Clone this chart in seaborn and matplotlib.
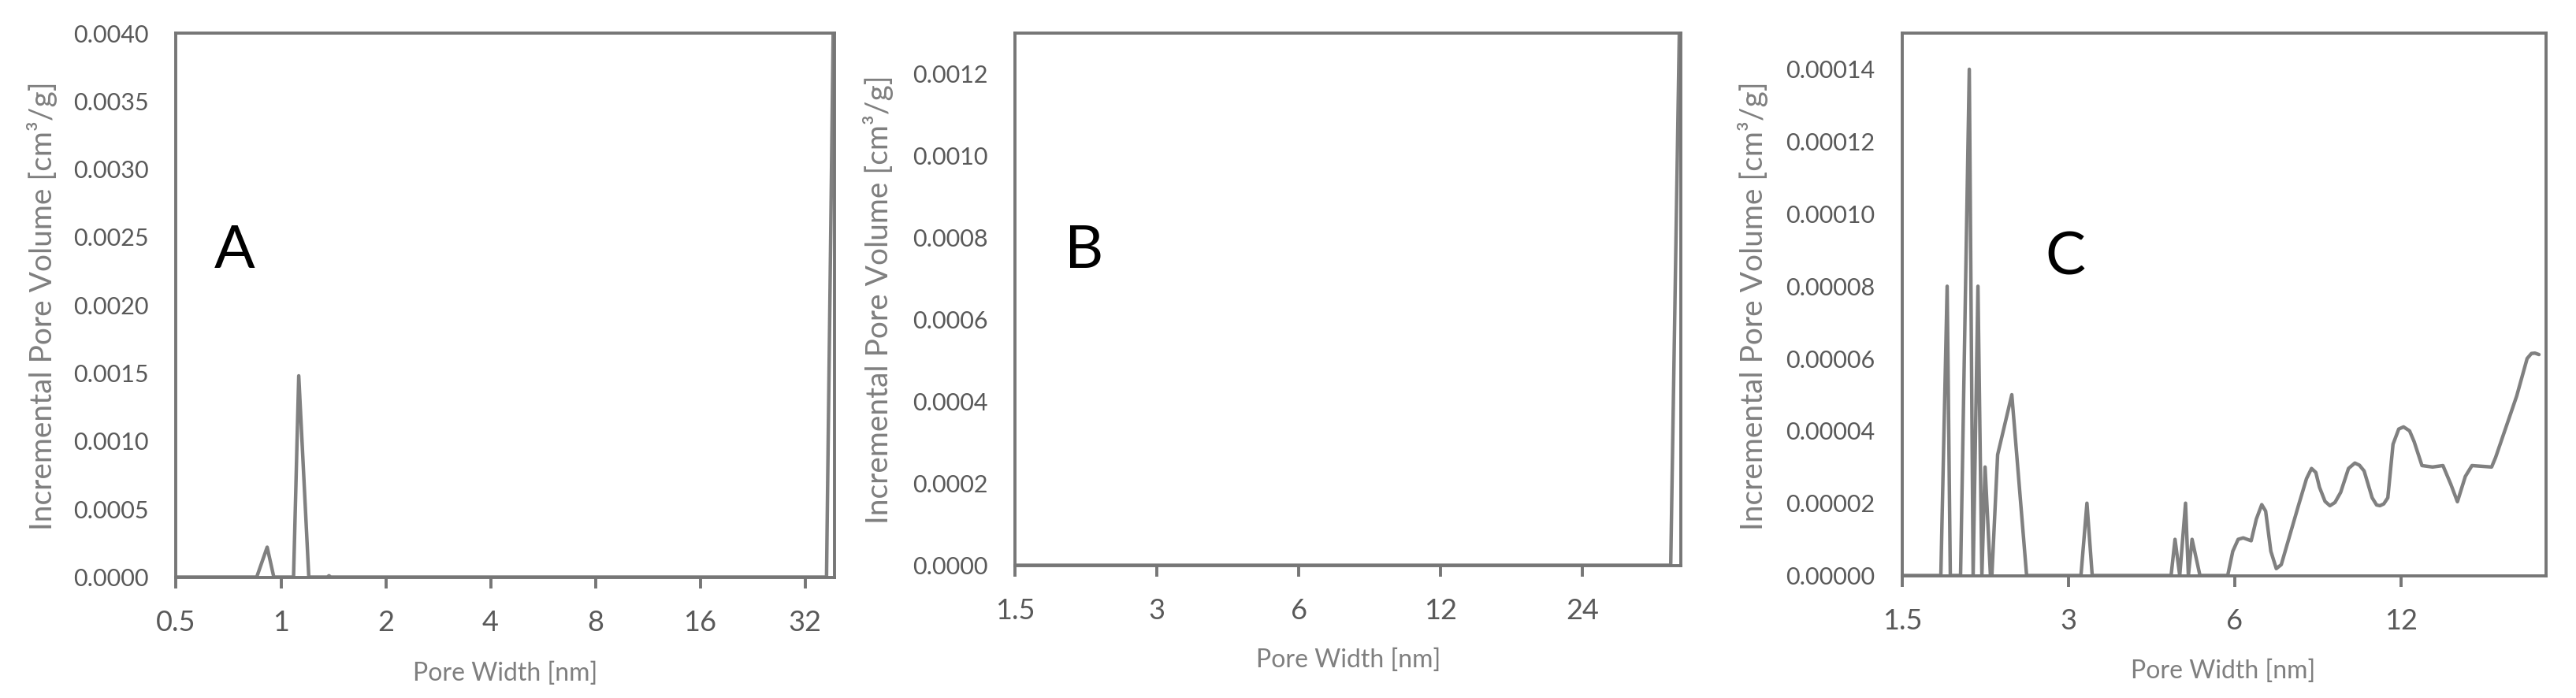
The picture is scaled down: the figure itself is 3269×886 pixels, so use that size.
import numpy as np
import pandas as pd
import matplotlib
matplotlib.use("Agg")
import matplotlib.pyplot as plt
import seaborn as sns

# pore width [nm] / incremental pore volume [cm3/g]
a_width = [0.5, 0.852, 0.913, 0.954, 1.087, 1.125, 1.2025, 1.36, 1.374, 1.39, 36.9, 38.6]
a_volume = [0.0, 0.0, 0.00022, 0.0, 0.0, 0.00148, 0.0, 0.0, 0.00001, 0.0, 0.0, 0.0041]

b_width = [1.5, 37.0, 38.6]
b_volume = [0.0, 0.0, 0.00131]

c_width = [1.50, 1.762, 1.809, 1.833, 1.913, 1.984, 2.016, 2.057, 2.091, 2.119, 2.167,
           2.18, 2.233, 2.369, 2.52, 3.161, 3.241, 3.313,
           4.604, 4.68, 4.773, 4.89, 4.948, 5.025, 5.193,
           5.83, 5.955, 6.09, 6.22, 6.43, 6.57, 6.72, 6.83, 6.98, 7.14, 7.29, 7.83,
           8.10, 8.27, 8.42, 8.55, 8.75, 8.93, 9.12, 9.34, 9.65, 9.91, 10.10, 10.30,
           10.65, 10.85, 11.0, 11.18, 11.37, 11.62, 11.90, 12.14, 12.45,
           12.69, 13.11, 13.70, 14.31, 14.79, 15.2, 15.71, 16.15, 17.53, 17.82,
           19.46, 20.33, 20.70, 21.0, 21.36]
c_volume = [0.0, 0.0, 0.00008, 0.0, 0.0, 0.00014, 0.0, 0.00008, 0.0, 0.00003, 0.0,
            0.0, 0.0000334, 0.00005, 0.0, 0.0, 0.00002, 0.0,
            0.0, 0.00001, 0.0, 0.00002, 0.0, 0.00001, 0.0,
            0.0, 0.0000067, 0.00001, 0.0000104, 0.0000096, 0.0000156, 0.0000196, 0.0000178,
            0.0000067, 0.0000019, 0.000003, 0.0000193,
            0.0000268, 0.0000296, 0.0000285, 0.0000244, 0.0000205, 0.0000193, 0.0000202,
            0.000023, 0.0000296, 0.0000311, 0.0000305, 0.0000289,
            0.0000215, 0.0000195, 0.0000193, 0.0000198, 0.0000215, 0.0000363, 0.0000405,
            0.0000411, 0.0000400,
            0.000037, 0.0000304, 0.00003, 0.0000304, 0.0000252, 0.0000204, 0.0000274,
            0.0000304, 0.00003, 0.0000326,
            0.0000496, 0.00006, 0.0000614, 0.0000615, 0.0000611]

a_xticks = [0.5, 1, 2, 4, 8, 16, 32]
b_xticks = [1.5, 3, 6, 12, 24]
c_xticks = [1.5, 3, 6, 12]
a_yticks = np.arange(0, 0.00401, 0.0005)
b_yticks = np.arange(0, 0.00121, 0.0002)
c_yticks = np.arange(0, 0.000141, 0.00002)

W, H = 3269, 886
sns.set_theme(style="white")
plt.rcParams["font.family"] = ["Lato", "DejaVu Sans"]

LINE = "#808080"
SPINE = "#767676"
TICKTXT = "#595959"
LABEL = "#7f7f7f"

fig = plt.figure(figsize=(W / 100, H / 100), dpi=100)


def px_axes(left, top, right, bottom):
    return fig.add_axes([left / W, 1 - bottom / H, (right - left) / W, (bottom - top) / H])


panels = [
    dict(box=(223.5, 42, 1059, 732.5), w=a_width, v=a_volume, xlim=(0.5, 38.9), ylim=(0, 0.004),
         xt=a_xticks, xl=["0.5", "1", "2", "4", "8", "16", "32"], yt=a_yticks, fmt="{:.4f}",
         letter="A", lpos=(298, 318), ylab=(54, 388), xlab=(641, 855)),
    dict(box=(1288.3, 42, 2132.5, 717.5), w=b_width, v=b_volume, xlim=(1.5, 38.8), ylim=(0, 0.0013),
         xt=b_xticks, xl=["1.5", "3", "6", "12", "24"], yt=b_yticks, fmt="{:.4f}",
         letter="B", lpos=(1376, 318), ylab=(1115, 380), xlab=(1711, 838)),
    dict(box=(2414, 42, 3231, 730.5), w=c_width, v=c_volume, xlim=(1.5, 22.0), ylim=(0, 0.00015),
         xt=c_xticks, xl=["1.5", "3", "6", "12"], yt=c_yticks, fmt="{:.5f}",
         letter="C", lpos=(2621, 327), ylab=(2225, 388), xlab=(2821, 852)),
]

for p in panels:
    ax = px_axes(*p["box"])
    df = pd.DataFrame({"width": p["w"], "volume": p["v"]})
    sns.lineplot(data=df, x="width", y="volume", ax=ax, color=LINE, linewidth=3.2,
                 estimator=None, sort=False)
    ax.set_xscale("log", base=2)
    ax.set_xlim(*p["xlim"])
    ax.set_ylim(*p["ylim"])
    ax.set_xticks(p["xt"])
    ax.set_xticklabels(p["xl"])
    ax.xaxis.set_minor_locator(matplotlib.ticker.NullLocator())
    ax.set_yticks(p["yt"])
    ax.set_yticklabels([p["fmt"].format(t) for t in p["yt"]])
    ax.tick_params(axis="x", direction="out", length=10, width=2.8, color=SPINE,
                   labelsize=26, labelcolor=TICKTXT, pad=20, bottom=True)
    ax.tick_params(axis="y", length=0, labelsize=22, labelcolor=TICKTXT, pad=25)
    for s in ax.spines.values():
        s.set_visible(True)
        s.set_color(SPINE)
        s.set_linewidth(2.8)
    ax.set_xlabel("")
    ax.set_ylabel("")
    fig.text(p["ylab"][0] / W, 1 - p["ylab"][1] / H, "Incremental Pore Volume [cm³/g]",
             rotation=90, ha="center", va="center", fontsize=28, color=LABEL)
    fig.text(p["xlab"][0] / W, 1 - p["xlab"][1] / H, "Pore Width [nm]",
             ha="center", va="center", fontsize=23, color=LABEL)
    fig.text(p["lpos"][0] / W, 1 - p["lpos"][1] / H, p["letter"],
             ha="center", va="center", fontsize=55, color="black")

fig.savefig("out.png", dpi=100)
